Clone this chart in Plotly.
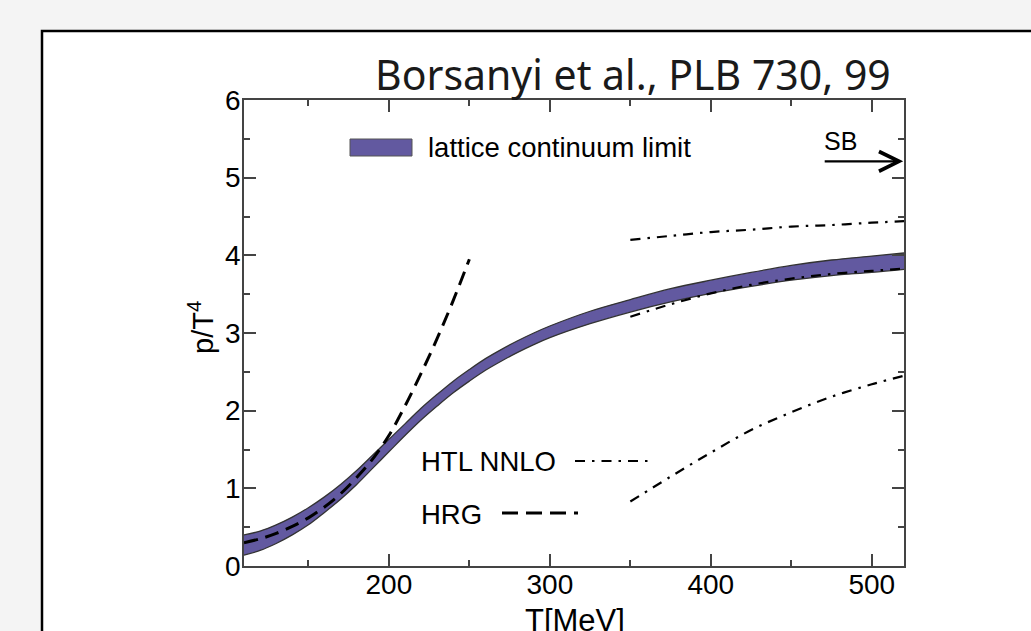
import plotly.graph_objects as go

# ---------------- data ----------------
T_band = [110, 120, 130, 140, 150, 160, 170, 180, 190, 200, 210, 220, 230, 240, 250,
          260, 270, 280, 290, 300, 325, 350, 375, 400, 425, 450, 475, 500, 520]
p_upper = [0.40, 0.45, 0.53, 0.63, 0.75, 0.89, 1.05, 1.23, 1.43, 1.63, 1.83, 2.03, 2.21, 2.38, 2.53,
           2.67, 2.79, 2.90, 3.00, 3.09, 3.28, 3.43, 3.57, 3.68, 3.78, 3.87, 3.94, 3.99, 4.03]
p_lower = [0.14, 0.20, 0.29, 0.40, 0.53, 0.69, 0.86, 1.05, 1.26, 1.47, 1.68, 1.88, 2.06, 2.23, 2.38,
           2.52, 2.64, 2.75, 2.85, 2.94, 3.12, 3.27, 3.40, 3.51, 3.60, 3.68, 3.74, 3.78, 3.82]

T_hrg = [110, 120, 130, 140, 150, 160, 170, 180, 190, 200, 210, 220, 230, 240, 250]
p_hrg = [0.30, 0.35, 0.42, 0.51, 0.62, 0.76, 0.93, 1.14, 1.38, 1.68, 2.06, 2.48, 2.93, 3.42, 3.95]

T_htl = [350, 375, 400, 425, 450, 475, 500, 520]
p_htl_hi = [4.20, 4.25, 4.30, 4.33, 4.37, 4.39, 4.42, 4.44]
p_htl_mid = [3.21, 3.37, 3.51, 3.62, 3.70, 3.76, 3.80, 3.83]
p_htl_lo = [0.83, 1.15, 1.46, 1.75, 1.98, 2.18, 2.34, 2.45]

SB_limit = 5.21

x_ticks = [200, 300, 400, 500]
y_ticks = [0, 1, 2, 3, 4, 5, 6]

title_text = "Borsanyi et al., PLB 730, 99"
band_label = "lattice continuum limit"
htl_label = "HTL NNLO"
hrg_label = "HRG"
sb_label = "SB"

# ---------------- layout helpers ----------------
W, H = 1031, 631
L, R, TOP, BOT = 244, 904, 100, 566
def px(x):
    return (x - L) / (R - L)
def py(y):
    return (BOT - y) / (BOT - TOP)

PURPLE = "#6259a0"
EDGE = "#333333"
AX = "#444444"
BG = "#f4f4f4"
FONT = "Liberation Sans, Arial, Helvetica, sans-serif"

fig = go.Figure()

fig.add_trace(go.Scatter(x=T_band, y=p_lower, mode="lines",
                         line=dict(color=EDGE, width=1.3, shape="spline"),
                         showlegend=False, hoverinfo="skip"))
fig.add_trace(go.Scatter(x=T_band, y=p_upper, mode="lines", fill="tonexty",
                         fillcolor=PURPLE,
                         line=dict(color=EDGE, width=1.3, shape="spline"),
                         showlegend=False, hoverinfo="skip"))

hrg_dash = "14px,8px"
fig.add_trace(go.Scatter(x=T_hrg, y=p_hrg, mode="lines",
                         line=dict(color="black", width=3, dash=hrg_dash, shape="spline"),
                         showlegend=False, hoverinfo="skip"))

htl_dash = "10px,7px,2.5px,7px"
for arr in (p_htl_hi, p_htl_mid, p_htl_lo):
    fig.add_trace(go.Scatter(x=T_htl, y=arr, mode="lines",
                             line=dict(color="black", width=2.2, dash=htl_dash, shape="spline"),
                             showlegend=False, hoverinfo="skip"))

shapes = [
    # slide panel
    dict(type="rect", xref="paper", yref="paper",
         x0=px(42), x1=px(1045), y0=py(645), y1=py(31),
         fillcolor="white", line=dict(color="black", width=2.5), layer="below"),
    # legend swatch
    dict(type="rect", xref="paper", yref="paper",
         x0=px(350), x1=px(412), y0=py(156), y1=py(139),
         fillcolor=PURPLE, line=dict(color="#555555", width=1)),
    # HTL legend sample
    dict(type="line", xref="paper", yref="paper",
         x0=px(575), x1=px(650), y0=py(461), y1=py(461),
         line=dict(color="black", width=2.2, dash=htl_dash)),
    # HRG legend sample
    dict(type="line", xref="paper", yref="paper",
         x0=px(502), x1=px(578), y0=py(513), y1=py(513),
         line=dict(color="black", width=3, dash="16px,8px")),
]

annotations = [
    dict(text=title_text, xref="paper", yref="paper", x=px(893), y=py(74),
         xanchor="right", yanchor="middle", showarrow=False,
         font=dict(family="Noto Sans", size=41, color="#1a1a1a")),
    dict(text=band_label, xref="paper", yref="paper", x=px(426), y=py(147),
         xanchor="left", yanchor="middle", showarrow=False,
         font=dict(family=FONT, size=27.5, color="black")),
    dict(text=htl_label, xref="paper", yref="paper", x=px(419), y=py(461),
         xanchor="left", yanchor="middle", showarrow=False,
         font=dict(family=FONT, size=27.5, color="black")),
    dict(text=hrg_label, xref="paper", yref="paper", x=px(419), y=py(514),
         xanchor="left", yanchor="middle", showarrow=False,
         font=dict(family=FONT, size=27.5, color="black")),
    dict(text=sb_label, xref="paper", yref="paper", x=px(822), y=py(141),
         xanchor="left", yanchor="middle", showarrow=False,
         font=dict(family=FONT, size=25, color="black")),
    dict(text="", x=519.5, y=SB_limit, xref="x", yref="y",
         ax=-80, ay=0, showarrow=True, arrowhead=5, arrowsize=1.7,
         arrowwidth=2.3, arrowcolor="black", standoff=0),
    dict(text="T[MeV]", xref="paper", yref="paper", x=px(575), y=py(620),
         xanchor="center", yanchor="middle", showarrow=False,
         font=dict(family=FONT, size=31, color="black")),
    dict(text="p/T<sup>4</sup>", xref="paper", yref="paper", x=px(201), y=py(328),
         xanchor="center", yanchor="middle", showarrow=False, textangle=-90,
         font=dict(family=FONT, size=29, color="black")),
]

fig.update_layout(
    width=W, height=H, autosize=False,
    margin=dict(l=L, r=W - R, t=TOP, b=H - BOT, pad=0),
    paper_bgcolor=BG, plot_bgcolor="rgba(0,0,0,0)",
    shapes=shapes, annotations=annotations, showlegend=False,
    font=dict(family=FONT, size=28, color="black"),
)
fig.update_xaxes(range=[110, 520], tickvals=x_ticks, ticktext=[str(v) for v in x_ticks],
                 showgrid=False, zeroline=False, showline=True, linecolor=AX, linewidth=1.5,
                 mirror="ticks", ticks="inside", ticklen=12, tickwidth=1.5, tickcolor=AX,
                 ticklabelstandoff=-7,
                 tickfont=dict(family=FONT, size=28, color="black"),
                 minor=dict(dtick=50, tick0=0, ticks="inside", ticklen=6, tickwidth=1.5, tickcolor=AX))
fig.update_yaxes(range=[0, 6], tickvals=y_ticks, ticktext=[str(v) for v in y_ticks],
                 showgrid=False, zeroline=False, showline=True, linecolor=AX, linewidth=1.5,
                 mirror="ticks", ticks="inside", ticklen=12, tickwidth=1.5, tickcolor=AX,
                 ticklabelstandoff=-4,
                 tickfont=dict(family=FONT, size=28, color="black"),
                 minor=dict(dtick=0.5, tick0=0, ticks="inside", ticklen=6, tickwidth=1.5, tickcolor=AX))

fig.write_html(
    "out.html",
    config={"displayModeBar": False},
    post_script="document.body.style.margin='0';document.body.style.background='" + BG + "';",
)
